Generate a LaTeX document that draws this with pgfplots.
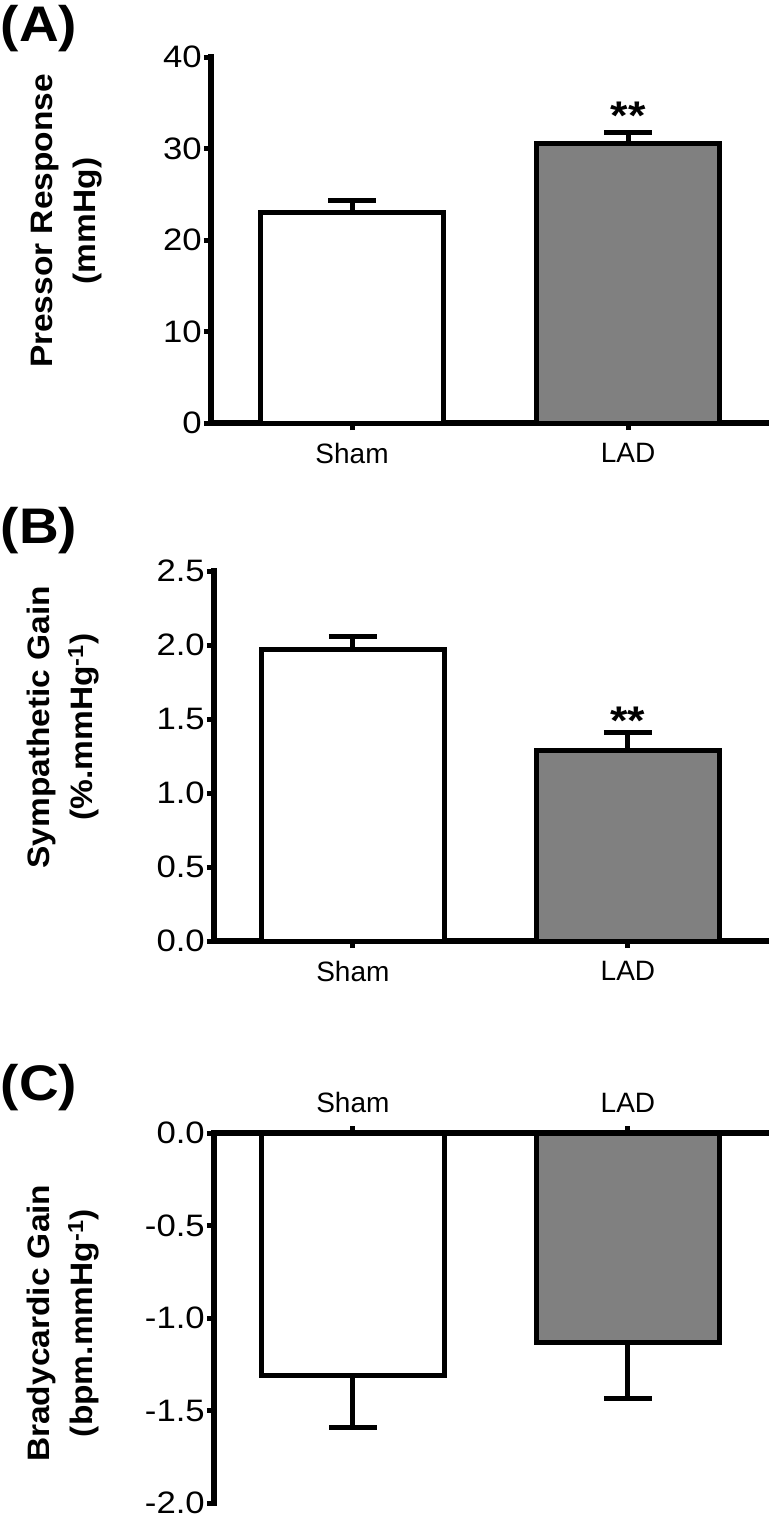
\documentclass[border=0pt]{standalone}
\usepackage{pgfplots}
\pgfplotsset{compat=1.18}
\usepackage{fontspec}
\setmainfont{Liberation Sans}
\newfontfamily\tickfont[FakeStretch=1.12]{Liberation Sans}
\newfontfamily\labfont[FakeStretch=1.08]{Liberation Sans}
\newfontfamily\panfont[FakeStretch=1.1]{Liberation Sans}
\definecolor{barg}{RGB}{128,128,128}

\pgfplotsset{
  myax/.style={
    scale only axis, anchor=south west, clip=false,
    axis y line*=left,
    axis line style={line width=5.5pt, line cap=rect},
    xtick={0,1}, xticklabels={Sham,LAD},
    tick align=outside, major tick length=7pt,
    tick style={black, line width=5pt},
    minor tick num=0,
    yticklabel style={font=\tickfont\fontsize{31}{33}\selectfont, inner sep=2pt},
    xticklabel style={font=\fontsize{28}{30}\selectfont, inner sep=13pt},
    ylabel style={font=\labfont\bfseries\fontsize{31}{43}\selectfont, align=center, anchor=center},
  },
  mybar/.style={ybar, bar width=0.665, bar shift=0pt, draw=black, line width=5pt,
    error bars/y explicit, error bars/y dir=#1,
    error bars/error bar style={line width=5pt, black},
    error bars/error mark options={rotate=90, line width=5pt, black, mark size=24pt}},
}

\begin{document}
\begin{tikzpicture}
\useasboundingbox (0,0) rectangle (774pt,-1519pt);

% ---------- (A)
\node[font=\panfont\bfseries\fontsize{50}{52}\selectfont] at (39pt,-29pt) {(A)};
\begin{axis}[myax, at={(211pt,-423pt)}, width=555pt, height=366pt,
  axis x line*=bottom,
  xmin=-0.511, xmax=1.5, ymin=0, ymax=40,
  ytick={0,10,20,30,40}, yticklabels={0,10,20,30,40},
  ylabel={Pressor Response\\(mmHg)},
  ylabel style={at={(axis description cs:-0.261,0.552)}}]
\addplot[mybar=plus, fill=white] coordinates {(0,23.06) +- (0,1.3)};
\addplot[mybar=plus, fill=barg] coordinates {(1,30.5) +- (0,1.2)};
\node[font=\tickfont\bfseries\fontsize{40}{42}\selectfont] at (axis cs:1,33.6) {**};
\end{axis}

% ---------- (B)
\node[font=\panfont\bfseries\fontsize{50}{52}\selectfont] at (39pt,-531pt) {(B)};
\begin{axis}[myax, at={(214pt,-941pt)}, width=552pt, height=370pt,
  axis x line*=bottom,
  xmin=-0.505, xmax=1.502, ymin=0, ymax=2.5,
  ytick={0,0.5,1,1.5,2,2.5}, yticklabels={0.0,0.5,1.0,1.5,2.0,2.5},
  ylabel={Sympathetic Gain\\(\%.mmHg\textsuperscript{-1})},
  ylabel style={at={(axis description cs:-0.274,0.578)}}]
\addplot[mybar=plus, fill=white] coordinates {(0,1.97) +- (0,0.09)};
\addplot[mybar=plus, fill=barg] coordinates {(1,1.29) +- (0,0.12)};
\node[font=\tickfont\bfseries\fontsize{40}{42}\selectfont] at (axis cs:1,1.49) {**};
\end{axis}

% ---------- (C)
\node[font=\panfont\bfseries\fontsize{50}{52}\selectfont] at (39pt,-1088pt) {(C)};
\begin{axis}[myax, at={(214pt,-1503pt)}, width=552pt, height=370pt,
  axis x line*=top,
  xmin=-0.505, xmax=1.502, ymin=-2, ymax=0,
  ytick={-2,-1.5,-1,-0.5,0}, yticklabels={-2.0,-1.5,-1.0,-0.5,0.0},
  ylabel={Bradycardic Gain\\(bpm.mmHg\textsuperscript{-1})},
  ylabel style={at={(axis description cs:-0.274,0.486)}}]
\addplot[mybar=minus, fill=white] coordinates {(0,-1.31) +- (0,0.28)};
\addplot[mybar=minus, fill=barg] coordinates {(1,-1.135) +- (0,0.30)};
\end{axis}
\end{tikzpicture}
\end{document}
